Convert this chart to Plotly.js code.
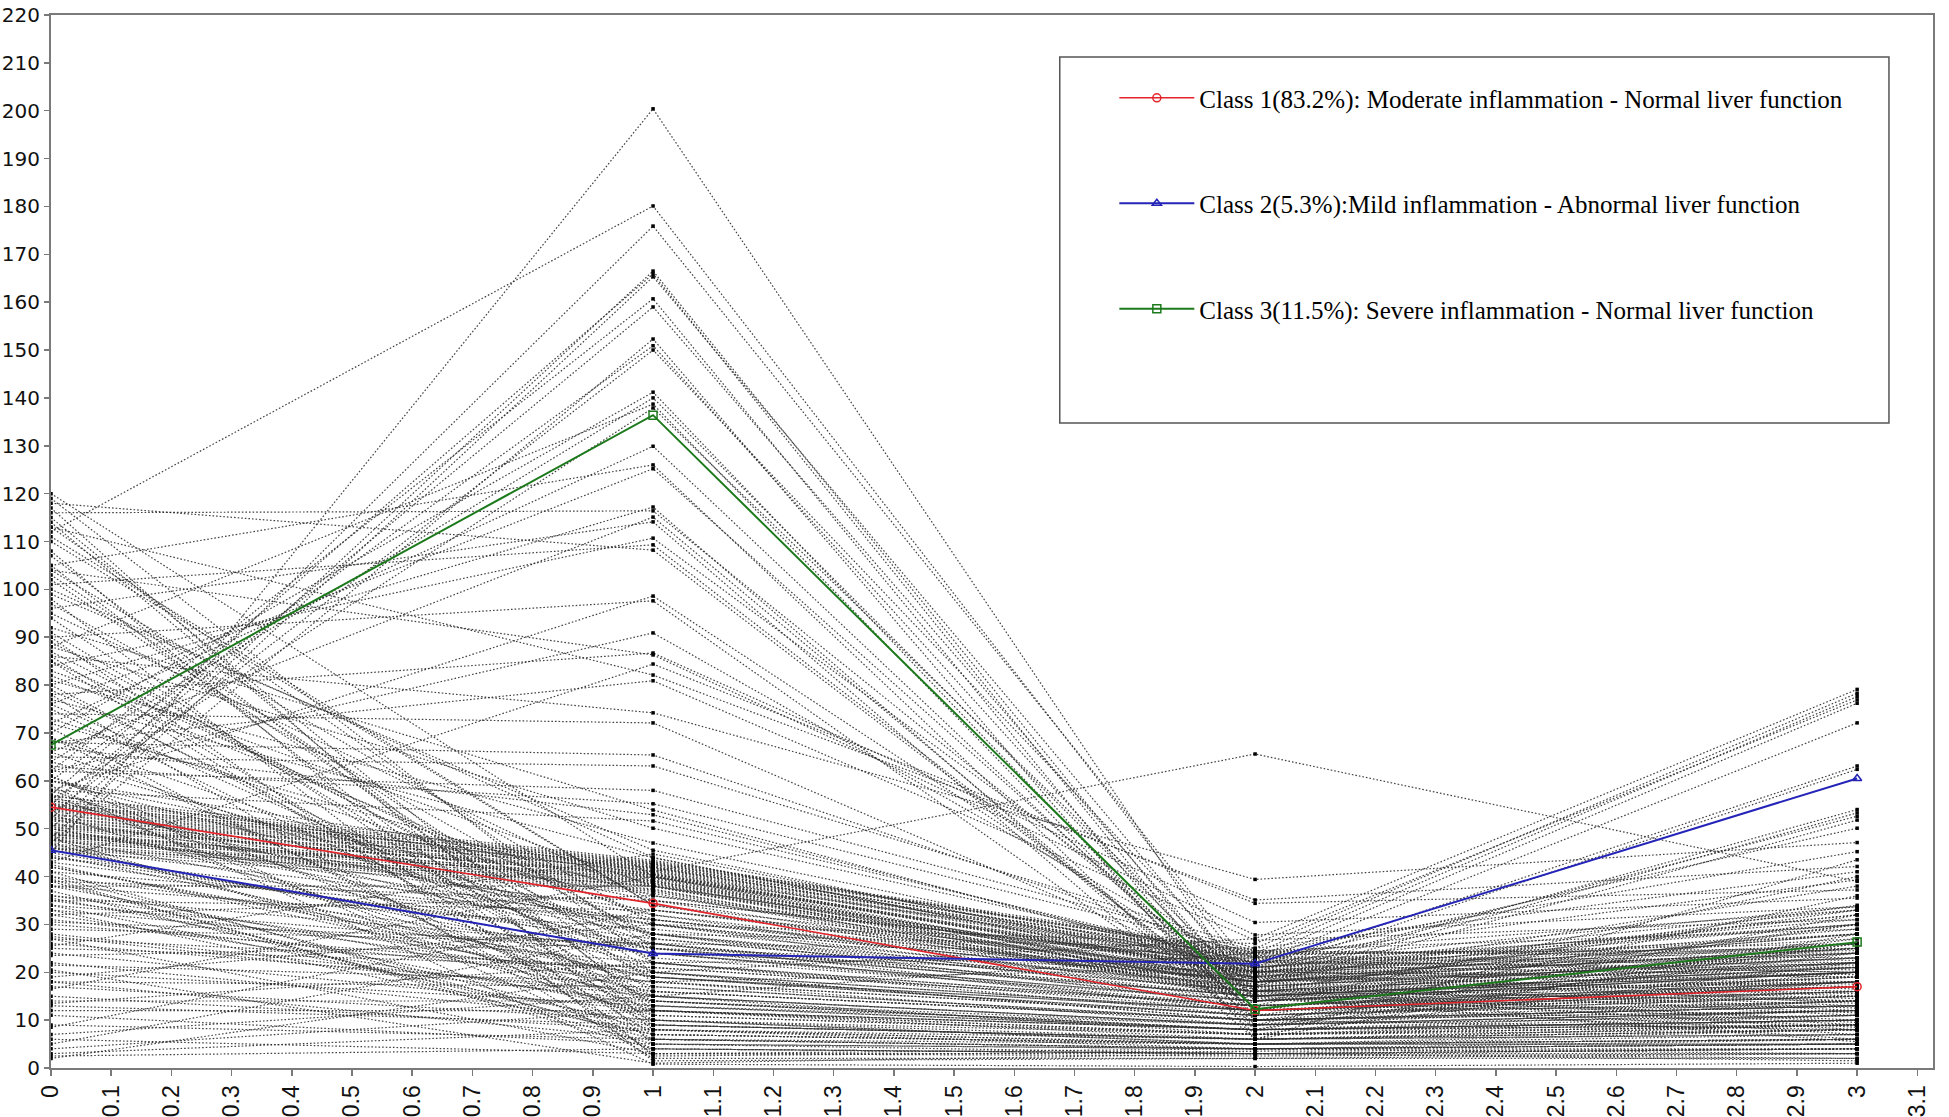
<!DOCTYPE html>
<html><head><meta charset="utf-8">
<script src="https://cdn.plot.ly/plotly-3.0.1.min.js"></script>
<style>html,body{margin:0;padding:0;background:#fff}#chart{width:1949px;height:1117px}</style>
</head><body><div id="chart"></div>
<script>
// measurement occasions
const visits = [0, 1, 2, 3];

// individual trajectories: value at each occasion (same index = same subject)
const visit0 = [
  45,112,52,50,57,48,62,55,47,60,53,70,64,88,56,72,105,76,118,80,116,66,96,84,101,58,90,62,78,104,43,113,68,86,
  42,50,38,55,46,60,35,48,40,52,
  46.1,52.4,48.7,55.3,50.2,47.6,53.8,49.4,56.2,51.1,45.3,54.6,48.2,52.9,50.7,46.8,55.8,49.9,53.1,47.3,51.6,56.8,48.9,54.1,45.9,50.4,52.2,47.9,55.1,49.1,53.5,46.5,51.9,54.9,48.4,50.9,
  117,115,113,120,105,104,102,99,95,90,89,88,86,85,83,80,78,77,76,73,71,69,67,61,
  2,2.5,3,4,5,6,7,8.5,11,13,13.5,14,16.5,17,18,19,20,20.5,21.5,23.5,25.5,27.5,32,33,34,36,
  38,39.5,41,42.5,58,59,60,63,65,68,74,81,92,98,100,108,110,57,44,62,
  24,31,36,40,44,28,33,39,43,47,22,30,35,41,45,26,34,38,42,48,29,37,46,32,27,58,61,64,66,69,
  72,75,79,82,85,87,91,94,97,103,107,111,114,119,15,18,12,9,25,50,53,56,49,57,60,44.5,39,35.5,30.5,27
];
const visit1 = [
  200.4,180.1,175.9,166.5,165.9,165.3,160.7,159.0,152.3,150.9,150.0,141.2,140.0,138.7,137.9,129.9,126.0,125.2,108.2,117.2,116.4,115.1,114.1,110.7,109.3,98.6,97.6,90.9,86.7,86.3,84.4,82.1,80.9,74.2,
  20,28,15,30,22,35,18,25,24,32,
  38.2,41.5,39.1,42.6,40.3,37.4,41.9,38.8,43.1,40.7,36.5,42.2,39.6,41.1,40.0,37.9,42.9,39.3,41.7,38.5,40.9,43.4,39.8,42.4,36.9,40.5,41.3,38.0,42.7,39.0,41.8,37.2,40.2,42.0,38.6,39.9,
  5,12,25,40,8,30,18,45.5,35,3,22,50.1,10,28,38,15,2,43.9,20,32,6,26,52.9,12,
  20,4,8,12,28,3,15,33,5,9,22,14,40,10,6,30,13,1,18,26,44.7,14,36,7,24,19,
  38,4,31,16,51.6,0.8,41,55.2,63.1,65.4,72.1,47,53.9,1.5,44,2.5,34,40.5,26,58,
  12,18,25,8,30,15,22,5,27,14,10,20,33,6,24,16,9,29,19,11,26,7,31,13,21,17,4,28,23,9,
  36,14,19,31,7,24,16,11,27,20,13,34,9,22,8,17,12,6,21,30,15,25,33,10,28,19,35,12,26,3
];
const visit2 = [
  14,18,20,12,10,16,8,14,6,12,18,10,14,9,16,11,7,13,12,8,15,10,6,18,12,16,9,20,30.4,27.8,34.4,35.1,26.7,39.4,
  27,25,24,26,23,22,21,20,19,18,
  18.5,22.1,16.4,23.8,20.2,15.1,21.6,17.9,24.5,19.3,14.6,23.1,17.2,21.0,19.8,16.0,24.0,18.1,22.6,15.7,20.7,23.5,17.5,22.9,14.9,19.0,21.3,16.8,24.2,18.8,22.3,15.4,20.4,23.3,17.0,19.6,
  4,8,12,18,6,14,9,20,16,3,11,22,5,13,17,7,2,19,10,15,4,12,21,8,
  10,3,5,8,15,4,9,18,4,6,12,8,20,7,5,16,9,3,11,14,21,8,18,5,13,12,
  20,3,17,10,22,0.3,65.6,24,25,23,18,21,20,2,19,3.5,16,22,24,24.5,
  6,11,15,4,18,9,13,3,16,8,5,12,20,4,14,10,6,17,11,7,15,5,19,8,13,10,3,16,14,6,
  21,9,12,18,5,14,10,7,16,12,8,20,6,13,5,10,7,4,13,18,9,15,19,6,17,11,22,7,15,2.5
];
const visit3 = [
  22,28,24,30,18,34,26,20,28,15,38,24,30,20,33,26,22,40,18,32,25,12,43.5,21,27,14,36,19,35.5,33.7,37.2,42.1,31,47.1,
  79.1,78.3,77.6,76.9,76.2,72.1,63.1,62.4,54.0,53.3,
  14,21,9,25,17,7,19,12,23,16,6,22,11,18,15,8,24,13,20,10,17.5,26,12.5,21.5,5.5,15.5,19.5,9.5,24.5,14.5,20.5,8.5,16.5,22.5,11.5,13.5,
  6,12,18,25,9,20,14,28,22,4,16,30,8,19,24,11,3,26,13,21,5,17,33,10,
  12,2,5,9,18,3,11,22,4,7,15,10,26,8,5,20,12,1.5,14,17,28,9,23,6,16,13,
  52.6,3,51.8,8,50.1,1,39,45.2,41.0,39.3,28,30,32,2,24,4,18,20,33,29,
  9,14,20,5,25,12,18,4,22,10,7,16,27,5,19,13,8,23,15,9,21,6,29,11,17,14,4,24,19,8,
  31,12,16,26,6,20,13,9,22,17,10,30,7,18,6,13,9,5,17,25,11,21,32,8,23,15,33.7,10,20,3
];

// class mean trajectories
const class1Mean = [54.5, 34.4, 12.0, 17.0];
const class2Mean = [45.5, 23.9, 21.8, 60.5];
const class3Mean = [67.5, 136.4, 12.3, 26.3];
const classNames = [
  'Class 1(83.2%): Moderate inflammation - Normal liver function',
  'Class 2(5.3%):Mild inflammation - Abnormal liver function',
  'Class 3(11.5%): Severe inflammation - Normal liver function'
];

const indX = [], indY = [];
for (let i = 0; i < visit0.length; i++) {
  const vals = [visit0[i], visit1[i], visit2[i], visit3[i]];
  for (let k = 0; k < visits.length; k++) { indX.push(visits[k]); indY.push(vals[k]); }
  indX.push(null); indY.push(null);
}

const traces = [
  {
    x: indX, y: indY, type: 'scatter', mode: 'lines+markers', showlegend: false,
    connectgaps: false, hoverinfo: 'skip',
    line: {color: 'rgba(45,45,45,0.9)', width: 1.2, dash: '1.6px,2px'},
    marker: {color: '#000', size: 3.5, symbol: 'square'}
  },
  {
    x: visits, y: class1Mean, type: 'scatter', mode: 'lines+markers', name: classNames[0], legendgroup: 'c1',
    line: {color: '#e3242b', width: 1.6},
    marker: {symbol: 'circle-open', size: 8, color: '#e3242b', line: {width: 1.5}}
  },
  {
    x: visits, y: class2Mean, type: 'scatter', mode: 'lines+markers', name: classNames[1], legendgroup: 'c2',
    line: {color: '#2424b8', width: 2},
    marker: {symbol: 'triangle-up-open', size: 8, color: '#2424b8', line: {width: 1.5}}
  },
  {
    x: visits, y: class3Mean, type: 'scatter', mode: 'lines+markers', name: classNames[2], legendgroup: 'c3',
    line: {color: '#1c7a1c', width: 2},
    marker: {symbol: 'square-open', size: 8, color: '#1c7a1c', line: {width: 1.5}}
  }
];

const axisLine = '#7a7a7a';
const layout = {
  width: 1949, height: 1117,
  margin: {l: 51, r: 16, t: 15, b: 49},
  paper_bgcolor: '#fff', plot_bgcolor: '#fff',
  showlegend: true,
  legend: {
    x: 0.565, xanchor: 'left', y: 0.943, yanchor: 'top',
    bgcolor: 'rgba(0,0,0,0)', borderwidth: 0,
    font: {family: 'Liberation Serif, Times New Roman, serif', size: 25, color: '#000'},
    tracegroupgap: 70, itemwidth: 75, traceorder: 'grouped'
  },
  xaxis: {
    range: [0, 3.126], dtick: 0.1, tick0: 0, tickangle: -90,
    showgrid: false, zeroline: false,
    showline: true, linecolor: axisLine, linewidth: 2, mirror: true,
    ticks: 'outside', ticklen: 6, tickcolor: axisLine, tickwidth: 1.5,
    tickfont: {family: 'Liberation Sans, Arial, sans-serif', size: 23, color: '#111'}
  },
  yaxis: {
    range: [0, 220], dtick: 10, tick0: 0,
    showgrid: false, zeroline: false,
    showline: true, linecolor: axisLine, linewidth: 2, mirror: true,
    ticks: 'outside', ticklen: 5, tickcolor: axisLine, tickwidth: 1.5,
    tickfont: {family: 'DejaVu Sans, sans-serif', size: 20, color: '#111'}
  },
  shapes: [
    {type: 'rect', xref: 'paper', yref: 'paper', x0: 0.536, x1: 0.9766, y0: 0.6125, y1: 0.960,
     line: {color: '#555', width: 1.5}, fillcolor: 'rgba(0,0,0,0)', layer: 'above'}
  ]
};

Plotly.newPlot('chart', traces, layout, {staticPlot: true, displayModeBar: false});
</script>
</body></html>
